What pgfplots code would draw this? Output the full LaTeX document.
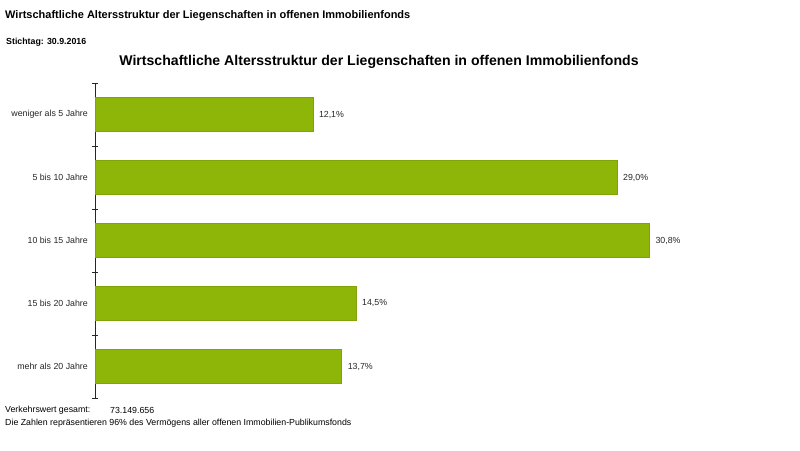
\documentclass[border=0pt]{standalone}
\usepackage{pgfplots}
\pgfplotsset{compat=1.18}
\usepackage{fontspec}
\setmainfont{Liberation Sans}
\definecolor{bargreen}{RGB}{142,182,8}
\begin{document}
\begin{tikzpicture}
\path[use as bounding box, fill=white] (0pt,0pt) rectangle (800pt,450pt);
\node[anchor=west, inner sep=0] at (5pt,434pt) {\fontsize{11}{13}\selectfont\bfseries Wirtschaftliche Altersstruktur der Liegenschaften in offenen Immobilienfonds};
\node[anchor=west, inner sep=0] at (6pt,407.5pt) {\fontsize{8.8}{10}\selectfont\bfseries Stichtag: 30.9.2016};
\node[inner sep=0] at (379pt,388pt) {\fontsize{14.1}{16}\selectfont\bfseries Wirtschaftliche Altersstruktur der Liegenschaften in offenen Immobilienfonds};
\node[anchor=west, inner sep=0] at (5pt,40pt) {\fontsize{8.8}{10}\selectfont Verkehrswert gesamt:};
\node[anchor=west, inner sep=0] at (110pt,40pt) {\fontsize{8.8}{10}\selectfont 73.149.656};
\node[anchor=west, inner sep=0] at (5pt,27pt) {\fontsize{8.8}{10}\selectfont Die Zahlen repräsentieren 96\% des Vermögens aller offenen Immobilien-Publikumsfonds};
\begin{axis}[
  scale only axis,
  at={(95pt,52pt)}, anchor=south west,
  width=648pt, height=315pt,
  xmin=0, xmax=36,
  ymin=-0.5, ymax=4.5,
  y dir=reverse,
  axis y line=left, axis x line=none,
  axis line style={-, black!85, line width=0.6pt},
  xbar, bar width=34pt,
  ytick={0,1,2,3,4},
  yticklabels={weniger als 5 Jahre,5 bis 10 Jahre,10 bis 15 Jahre,15 bis 20 Jahre,mehr als 20 Jahre},
  major tick length=0pt,
  minor ytick={-0.5,0.5,1.5,2.5,3.5,4.5},
  minor tick length=6pt,
  tick align=center,
  tick style={black!85, line width=0.6pt},
  yticklabel style={font=\fontsize{8.8}{10}\selectfont, inner sep=0pt, xshift=-7pt, text=black!85},
  point meta=explicit symbolic,
  nodes near coords,
  nodes near coords style={font=\fontsize{8.8}{10}\selectfont, text=black!85, anchor=west, inner sep=0pt, xshift=6pt},
]
\addplot[fill=bargreen, draw=bargreen!90!black, line width=0.4pt] coordinates {
  (12.1,0) [12,1\%]
  (29.0,1) [29,0\%]
  (30.8,2) [30,8\%]
  (14.5,3) [14,5\%]
  (13.7,4) [13,7\%]
};
\end{axis}
\end{tikzpicture}
\end{document}
